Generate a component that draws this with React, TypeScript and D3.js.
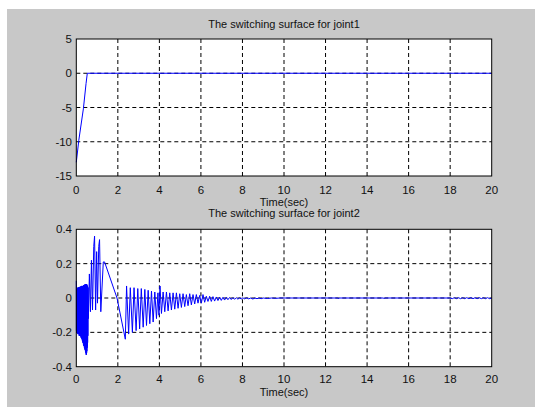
import React, { useEffect, useRef } from 'react';
import * as d3 from 'd3';

// joint1 switching surface: [time, value]
const joint1Data: [number, number][] = [
  [0, -13], [0.12, -9.8], [0.34, -5.2], [0.47, -1.5], [0.53, 0], [20, 0],
];

// joint2 switching surface: [time, value] (extrema only)
const joint2Data: [number, number][] = [
  [0, 0.1], [0.006, -0.19], [0.012, 0.05], [0.018, -0.2], [0.024, 0.05], [0.03, -0.2],
  [0.036, 0.05], [0.042, -0.2], [0.048, 0.05], [0.054, -0.2], [0.06, 0.055], [0.066, -0.2],
  [0.072, 0.06], [0.078, -0.21], [0.084, 0.06], [0.09, -0.21], [0.096, 0.06], [0.102, -0.2],
  [0.108, 0.06], [0.114, -0.21], [0.12, 0.06], [0.126, -0.21], [0.132, 0.06], [0.138, -0.22],
  [0.144, 0.06], [0.15, -0.21], [0.156, 0.06], [0.162, -0.22], [0.168, 0.06], [0.174, -0.21],
  [0.18, 0.065], [0.186, -0.22], [0.192, 0.065], [0.198, -0.22], [0.204, 0.065], [0.21, -0.22],
  [0.216, 0.065], [0.222, -0.23], [0.228, 0.065], [0.234, -0.22], [0.24, 0.07], [0.246, -0.23],
  [0.252, 0.07], [0.258, -0.23], [0.264, 0.07], [0.27, -0.24], [0.276, 0.07], [0.282, -0.24],
  [0.288, 0.07], [0.294, -0.25], [0.3, 0.07], [0.306, -0.25], [0.312, 0.07], [0.318, -0.26],
  [0.324, 0.07], [0.33, -0.26], [0.336, 0.07], [0.342, -0.27], [0.348, 0.07], [0.354, -0.27],
  [0.36, 0.075], [0.366, -0.28], [0.372, 0.075], [0.378, -0.28], [0.384, 0.075], [0.39, -0.29],
  [0.396, 0.075], [0.402, -0.29], [0.408, 0.075], [0.414, -0.3], [0.42, 0.08], [0.426, -0.3],
  [0.432, 0.08], [0.438, -0.31], [0.444, 0.08], [0.45, -0.31], [0.456, 0.08], [0.462, -0.32],
  [0.468, 0.08], [0.474, -0.33], [0.48, 0.08], [0.486, -0.33], [0.492, 0.08], [0.498, -0.32],
  [0.504, 0.08], [0.51, -0.31], [0.516, 0.075], [0.522, -0.29], [0.528, 0.07], [0.534, -0.28],
  [0.54, 0.07], [0.546, -0.26], [0.552, 0.065], [0.558, -0.22], [0.564, 0.06],
  [0.58, -0.12], [0.63, 0.14], [0.68, -0.08], [0.73, 0.22], [0.78, -0.07], [0.84, 0.3],
  [0.88, 0.36], [0.93, -0.07], [0.98, 0.27], [1.02, -0.03], [1.08, 0.3], [1.12, 0.34],
  [1.18, -0.08], [1.3, 0.21], [1.36, 0.21], [1.96, 0.0], [2.36, -0.24], [2.42, 0.07],
  [2.52, -0.21], [2.6, 0.06], [2.7, -0.2], [2.78, 0.06], [2.88, -0.19], [2.96, 0.055],
  [3.05, -0.18], [3.13, 0.055], [3.22, -0.17], [3.3, 0.05], [3.38, -0.16], [3.46, 0.045],
  [3.54, -0.15], [3.62, 0.04], [3.7, -0.14], [3.78, 0.035], [3.86, -0.12], [3.93, 0.03],
  [3.98, -0.1], [4.03, 0.07], [4.1, -0.09], [4.18, 0.035], [4.26, -0.08], [4.34, 0.035],
  [4.42, -0.075], [4.5, 0.03], [4.58, -0.07], [4.66, 0.03], [4.74, -0.065], [4.82, 0.03],
  [4.9, -0.06], [4.98, 0.025], [5.06, -0.055], [5.14, 0.025], [5.22, -0.05], [5.3, 0.02],
  [5.38, -0.045], [5.46, 0.025], [5.54, -0.04], [5.62, 0.02], [5.7, -0.035], [5.78, 0.02],
  [5.86, -0.03], [5.94, 0.015], [6.02, -0.03], [6.1, 0.02], [6.18, -0.025], [6.26, 0.01],
  [6.34, -0.02], [6.42, 0.01], [6.5, -0.02], [6.58, 0.008], [6.66, -0.018], [6.74, 0.006],
  [6.82, -0.015], [6.9, 0.005], [6.98, -0.014], [7.06, 0.004], [7.14, -0.012], [7.22, 0.004],
  [7.3, -0.01], [7.38, 0.003], [7.46, -0.009], [7.54, 0.002], [7.62, -0.008], [7.7, 0.002],
  [7.78, -0.007], [7.86, 0.001], [7.94, -0.006], [8.02, 0.001], [8.1, -0.005], [8.2, 0.001],
  [8.3, -0.005], [8.4, 0.0], [8.5, -0.006], [8.6, 0.0], [8.7, -0.004], [8.8, 0.0],
  [8.9, -0.004], [9.0, 0.0], [9.2, -0.003], [9.4, 0.0], [9.6, -0.002], [9.8, 0.0],
  [12.6, 0.0], [12.62, -0.004], [12.64, 0.0], [14.8, 0.0], [14.82, -0.004], [14.84, 0.0],
  [18.0, 0.0], [18.1, -0.004], [18.2, 0.002], [18.3, -0.004], [18.4, 0.002], [18.5, -0.004],
  [18.6, 0.002], [18.7, -0.004], [18.8, 0.002], [18.9, -0.004], [19.0, 0.002], [19.1, -0.004],
  [19.2, 0.002], [19.3, -0.004], [19.4, 0.002], [19.5, -0.004], [19.6, 0.002], [19.7, -0.004],
  [19.8, 0.002], [19.9, -0.004], [20.0, 0.0],
];

const xTicks = [0, 2, 4, 6, 8, 10, 12, 14, 16, 18, 20];
const y1Ticks = [5, 0, -5, -10, -15];
const y2Ticks = [0.4, 0.2, 0, -0.2, -0.4];
const titles = ['The switching surface for joint1', 'The switching surface for joint2'];
const xLabel = 'Time(sec)';

const W = 535;
const H = 407;

const App = () => {
  const svgRef = useRef<SVGSVGElement>(null);

  useEffect(() => {
    const svg = d3.select(svgRef.current).attr('width', W).attr('height', H);
    svg.selectAll('*').remove();

    // figure background
    svg.append('rect').attr('x', 7).attr('y', 9).attr('width', W - 7).attr('height', H - 9)
      .attr('fill', '#c8c8c8');

    const panels = [
      { data: joint1Data, ticks: y1Ticks, domain: [-15, 5], top: 39, bottom: 176, title: titles[0], titleY: 27.5, tickY: 193.5, labelY: 205.5, fmt: (d: number) => String(d) },
      { data: joint2Data, ticks: y2Ticks, domain: [-0.4, 0.4], top: 229.3, bottom: 366.7, title: titles[1], titleY: 216.5, tickY: 382.5, labelY: 395.5, fmt: (d: number) => (d === 0 ? '0' : d.toFixed(1)) },
    ];
    const left = 76.3;
    const right = 491.7;

    panels.forEach(p => {
      const x = d3.scaleLinear().domain([0, 20]).range([left, right]);
      const y = d3.scaleLinear().domain(p.domain).range([p.bottom, p.top]);
      const g = svg.append('g');

      g.append('rect').attr('x', left).attr('y', p.top).attr('width', right - left)
        .attr('height', p.bottom - p.top).attr('fill', '#fff');

      // dashed grid
      g.selectAll('.vgrid').data(xTicks.slice(1, -1)).enter().append('line')
        .attr('x1', d => x(d)).attr('x2', d => x(d)).attr('y1', p.top).attr('y2', p.bottom)
        .attr('stroke', '#000').attr('stroke-width', 1).attr('stroke-dasharray', '4,3');
      g.selectAll('.hgrid').data(p.ticks.slice(1, -1)).enter().append('line')
        .attr('x1', left).attr('x2', right).attr('y1', d => y(d)).attr('y2', d => y(d))
        .attr('stroke', '#000').attr('stroke-width', 1).attr('stroke-dasharray', '4,3');

      // curve
      const line = d3.line<[number, number]>().x(d => x(d[0])).y(d => y(d[1]));
      g.append('path').datum(p.data).attr('d', line).attr('fill', 'none')
        .attr('stroke', '#0000ff').attr('stroke-width', 1);

      // box
      g.append('rect').attr('x', left).attr('y', p.top).attr('width', right - left)
        .attr('height', p.bottom - p.top).attr('fill', 'none').attr('stroke', '#000');

      // tick labels
      g.selectAll('.xt').data(xTicks).enter().append('text')
        .attr('x', d => x(d)).attr('y', p.tickY).attr('text-anchor', 'middle')
        .attr('font-family', 'Liberation Sans, Arial, sans-serif').attr('font-size', 11.5)
        .attr('fill', '#111').text(d => String(d));
      g.selectAll('.yt').data(p.ticks).enter().append('text')
        .attr('x', 72).attr('y', d => y(d) + 4).attr('text-anchor', 'end')
        .attr('font-family', 'Liberation Sans, Arial, sans-serif').attr('font-size', 11.5)
        .attr('fill', '#111').text(d => p.fmt(d));

      g.append('text').attr('x', (left + right) / 2).attr('y', p.titleY).attr('text-anchor', 'middle')
        .attr('font-family', 'Liberation Sans, Arial, sans-serif').attr('font-size', 11)
        .attr('fill', '#111').text(p.title);
      g.append('text').attr('x', (left + right) / 2).attr('y', p.labelY).attr('text-anchor', 'middle')
        .attr('font-family', 'Liberation Sans, Arial, sans-serif').attr('font-size', 11)
        .attr('fill', '#111').text(xLabel);
    });
  }, []);

  return <svg ref={svgRef} style={{ position: 'absolute', left: 0, top: 0, display: 'block' }}></svg>;
};

export default App;
